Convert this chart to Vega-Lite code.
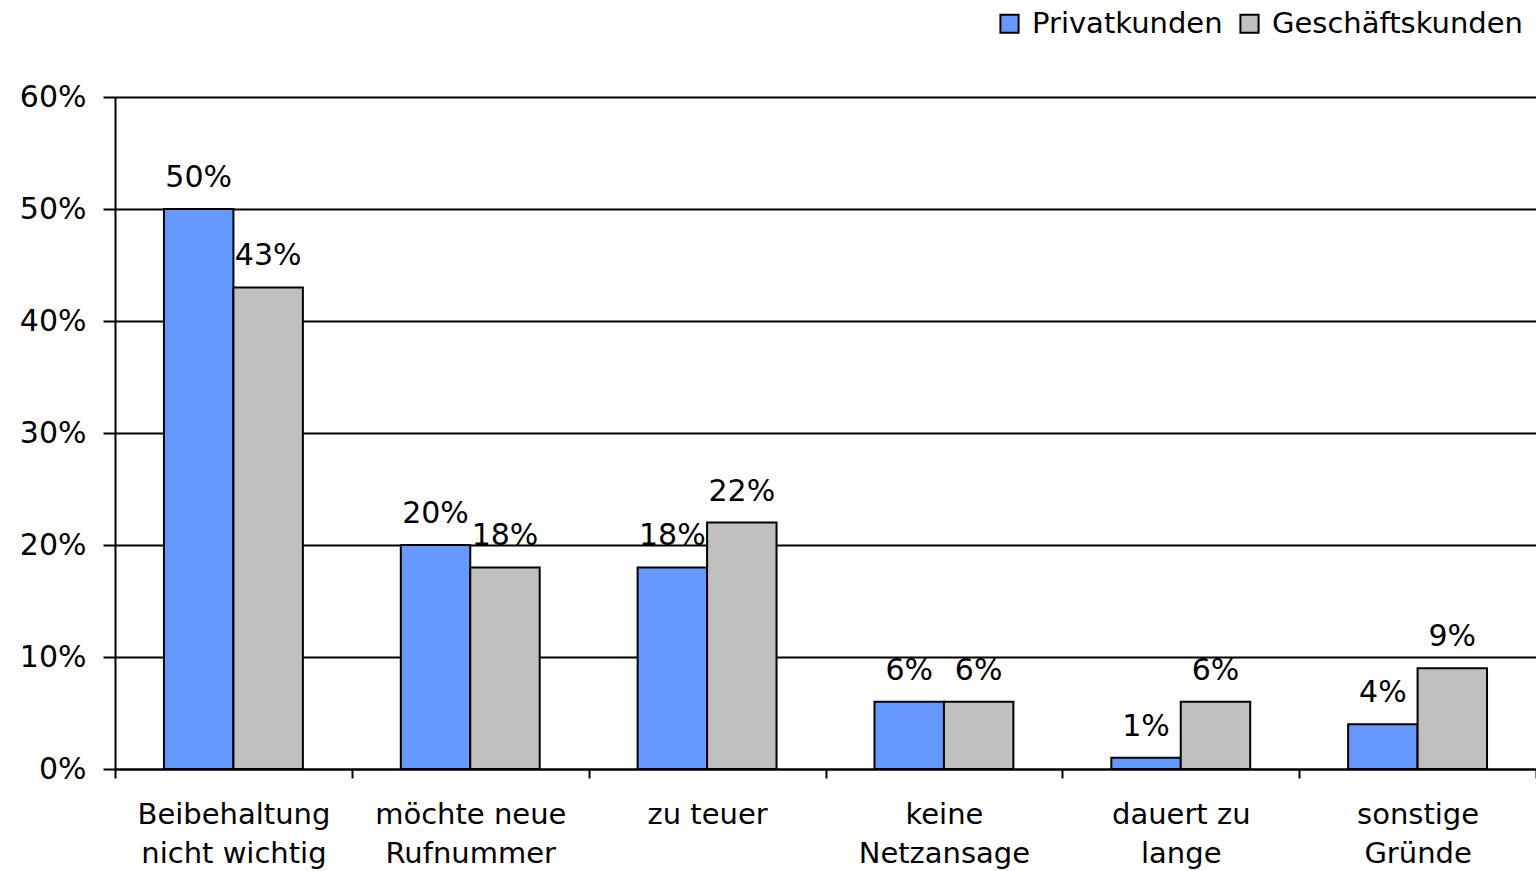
{
  "$schema": "https://vega.github.io/schema/vega-lite/v6.json",
  "width": 1421,
  "height": 672,
  "autosize": {"type": "none"},
  "padding": {"left": 115, "top": 97, "right": 0, "bottom": 102},
  "background": "white",
  "config": {
    "view": {"stroke": null},
    "font": "DejaVu Sans",
    "text": {"font": "DejaVu Sans"}
  },
  "data": {
    "values": [
      {"Grund": "Beibehaltung|nicht wichtig", "Gruppe": "Privatkunden", "Anteil": 0.50},
      {"Grund": "Beibehaltung|nicht wichtig", "Gruppe": "Geschäftskunden", "Anteil": 0.43},
      {"Grund": "möchte neue|Rufnummer", "Gruppe": "Privatkunden", "Anteil": 0.20},
      {"Grund": "möchte neue|Rufnummer", "Gruppe": "Geschäftskunden", "Anteil": 0.18},
      {"Grund": "zu teuer", "Gruppe": "Privatkunden", "Anteil": 0.18},
      {"Grund": "zu teuer", "Gruppe": "Geschäftskunden", "Anteil": 0.22},
      {"Grund": "keine|Netzansage", "Gruppe": "Privatkunden", "Anteil": 0.06},
      {"Grund": "keine|Netzansage", "Gruppe": "Geschäftskunden", "Anteil": 0.06},
      {"Grund": "dauert zu|lange", "Gruppe": "Privatkunden", "Anteil": 0.01},
      {"Grund": "dauert zu|lange", "Gruppe": "Geschäftskunden", "Anteil": 0.06},
      {"Grund": "sonstige|Gründe", "Gruppe": "Privatkunden", "Anteil": 0.04},
      {"Grund": "sonstige|Gründe", "Gruppe": "Geschäftskunden", "Anteil": 0.09}
    ]
  },
  "encoding": {
    "x": {
      "field": "Grund", "type": "nominal", "sort": null,
      "scale": {"paddingInner": 0, "paddingOuter": 0},
      "axis": {
        "title": null, "labelAngle": 0, "labelFontSize": 29, "labelColor": "black",
        "labelExpr": "split(datum.label, '|')", "labelLineHeight": 39,
        "labelPadding": 22, "tickBand": "extent", "tickSize": 9, "tickWidth": 2,
        "tickColor": "black", "domainColor": "black", "domainWidth": 2,
        "labelFont": "DejaVu Sans", "labelBaseline": "top", "labelLimit": 0
      }
    },
    "xOffset": {
      "field": "Gruppe", "type": "nominal", "sort": ["Privatkunden", "Geschäftskunden"],
      "scale": {"paddingInner": 0, "paddingOuter": 0.705}
    },
    "y": {
      "field": "Anteil", "type": "quantitative",
      "scale": {"domain": [0, 0.6]},
      "axis": {
        "title": null, "format": ".0%", "values": [0, 0.1, 0.2, 0.3, 0.4, 0.5, 0.6],
        "labelFontSize": 30, "labelColor": "black", "labelFont": "DejaVu Sans",
        "tickSize": 12, "tickWidth": 2, "tickColor": "black", "labelPadding": 17,
        "domainColor": "black", "domainWidth": 2,
        "grid": true, "gridColor": "black", "gridWidth": 2
      }
    }
  },
  "layer": [
    {
      "mark": {"type": "bar", "stroke": "black", "strokeWidth": 2},
      "encoding": {
        "color": {
          "field": "Gruppe", "type": "nominal", "sort": ["Privatkunden", "Geschäftskunden"],
          "scale": {"domain": ["Privatkunden", "Geschäftskunden"], "range": ["#6699FF", "#C0C0C0"]},
          "legend": {
            "title": null, "orient": "none", "direction": "horizontal",
            "legendX": 880, "legendY": -88,
            "labelFontSize": 29, "labelColor": "black", "labelFont": "DejaVu Sans", "labelLimit": 0,
            "symbolType": "square", "symbolSize": 330, "symbolStrokeColor": "black",
            "symbolStrokeWidth": 2, "symbolOpacity": 1, "columnPadding": 12, "labelOffset": 8
          }
        }
      }
    },
    {
      "mark": {"type": "text", "baseline": "bottom", "dy": -16, "fontSize": 30, "color": "black", "font": "DejaVu Sans"},
      "encoding": {
        "text": {"field": "Anteil", "type": "quantitative", "format": ".0%"}
      }
    }
  ]
}
